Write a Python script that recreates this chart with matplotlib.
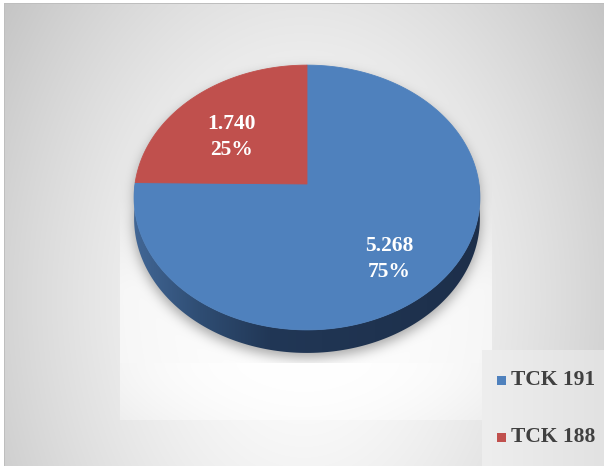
import numpy as np
import matplotlib
matplotlib.use("Agg")
import matplotlib.pyplot as plt
from matplotlib.path import Path
from matplotlib.patches import Polygon, Rectangle

# ---- data ----
labels = ["TCK 191", "TCK 188"]
values = [5268, 1740]
colors = ["#4F81BD", "#C0504D"]

W, H = 604, 466
fig = plt.figure(figsize=(W / 100, H / 100), dpi=100)
ax = fig.add_axes([0, 0, 1, 1])
ax.set_xlim(0, W)
ax.set_ylim(H, 0)
ax.axis("off")

FONT = ["Liberation Serif", "DejaVu Serif"]

# ---- pie geometry (tilted disc seen in perspective) ----
CX, CY = 307.0, 184.0      # centre of the top face
A, B = 172.0, 131.0        # half-width / half-depth
K = 0.102                  # perspective strength
DEPTH = 20.7               # thickness of the disc


def top_xy(theta_deg, r=1.0):
    t = np.radians(theta_deg)
    u, v = r * np.cos(t), r * np.sin(t)
    s = 1.0 + K * v
    return CX + A * u / s, CY - B * v / s


def bottom_xy(theta_deg):
    t = np.radians(theta_deg)
    v = np.sin(t)
    x, y = top_xy(theta_deg)
    return x, y + DEPTH / (1.0 + K * v)


# silhouette of the whole disc (top face + visible side)
th_up = np.linspace(0, 180, 181)
th_dn = np.linspace(180, 360, 181)
sil = [top_xy(t) for t in th_up] + [bottom_xy(t) for t in th_dn]
sil_path = Path(np.array(sil))

# ---- background: radial gradient, shadow box and glow ----
yy, xx = np.mgrid[0:H, 0:W] + 0.5
r = np.sqrt(((xx - 304) / 310) ** 2 + ((yy - 300) / 430) ** 2)
bg = 255 - 45 * r ** 1.5

pts = np.column_stack([xx.ravel(), yy.ravel()])
mask = sil_path.contains_points(pts).reshape(H, W).astype(float)


def gauss_mat(n, sigma):
    i = np.arange(n)
    g = np.exp(-0.5 * ((i[:, None] - i[None, :]) / sigma) ** 2)
    return g / g.sum(axis=1, keepdims=True)


def blur(m, sigma):
    return gauss_mat(H, sigma) @ m @ gauss_mat(W, sigma).T


inx = (xx >= 120) & (xx <= 492)

# lighter panel behind the disc's shadow
box = inx & (yy <= 363)
fade_top = np.clip((yy - 200) / 90, 0, 1)
bg = np.where(box, bg + (255 - bg) * 0.6 * fade_top, bg)

# soft white glow below the disc
below = inx & (yy > 363) & (yy <= 420)
glow = np.exp(-((xx - 304) / 250) ** 2 - ((yy - 363) / 75) ** 2)
bg = np.where(below, bg + (255 - bg) * 0.9 * glow, bg)

# soft grey shadow around the lower rim
shifted = np.zeros_like(mask)
shifted[5:, :] = mask[:-5, :]
shadow = blur(shifted, 6)
bg = np.where(box, bg * (1 - 0.34 * shadow), bg)

# legend panel
lp = (xx >= 482) & (yy >= 350)
bg = np.where(lp, 238 - 12 * (xx - 482) / 122, bg)

# outer frame
bg[:3, :] = 255
bg[:, :4] = 255
bg[3, 4:] = 190
bg[3:, 4] = 190

img = np.clip(np.dstack([bg, bg, bg]) / 255.0, 0, 1)
ax.imshow(img, extent=(0, W, H, 0), zorder=0, interpolation="bilinear")

# ---- side of the disc with horizontal shading ----
side = [top_xy(t) for t in th_dn] + [bottom_xy(t) for t in th_dn[::-1]]
side_patch = Polygon(side, closed=True, facecolor="none", edgecolor="none", zorder=2)
ax.add_patch(side_patch)
gx = np.linspace(0, W, W)
stops_x = [0, 133, 200, 270, 480, W]
stops_c = np.array([[66, 103, 150], [66, 103, 150], [47, 77, 115],
                    [33, 55, 86], [29, 47, 74], [29, 47, 74]]) / 255.0
grad = np.stack([np.interp(gx, stops_x, stops_c[:, c]) for c in range(3)], axis=-1)
grad = np.repeat(grad[None, :, :], 2, axis=0)
side_img = ax.imshow(grad, extent=(0, W, 400, 150), zorder=2, aspect="auto")
side_img.set_clip_path(side_patch)

# ---- top face slices: first slice starts at 12 o'clock, clockwise ----
total = float(sum(values))
start = 90.0
for val, col in zip(values, colors):
    sweep = 360.0 * val / total
    th = np.linspace(start, start - sweep, max(int(sweep), 2) + 1)
    poly = [(CX, CY)] + [top_xy(t) for t in th]
    ax.add_patch(Polygon(poly, closed=True, facecolor=col, edgecolor=col,
                         linewidth=0.6, zorder=3))
    mid = start - sweep / 2
    lx, ly = top_xy(mid, 0.65)
    txt = f"{val:,}".replace(",", ".") + "\n" + f"{round(100 * val / total)}%"
    ax.text(lx, ly + 11, txt, ha="center", va="center", color="white",
            fontsize=15.5, fontweight="bold", family=FONT, linespacing=1.4,
            zorder=4)
    start -= sweep

# ---- legend ----
leg_y = [380, 437]
for lab, col, y in zip(labels, colors, leg_y):
    ax.add_patch(Rectangle((497, y - 4.5), 9, 9, facecolor=col, edgecolor="none",
                           zorder=4))
    ax.text(511, y, lab, ha="left", va="center", color="#404040", fontsize=15.5,
            fontweight="bold", family=FONT, zorder=4)

fig.savefig("out.png", dpi=100)
